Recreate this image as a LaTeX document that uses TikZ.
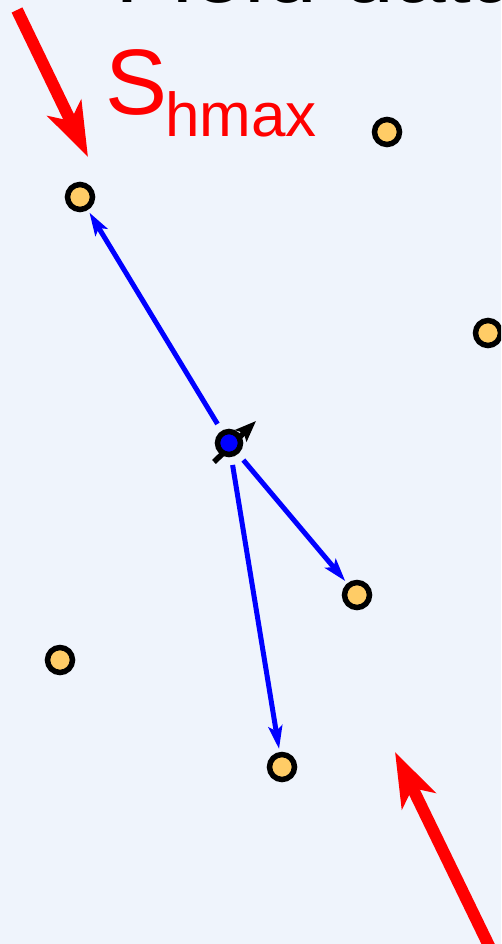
\documentclass[tikz,border=0pt]{standalone}
\usepackage{fontspec}
\setmainfont{Liberation Sans}
\usetikzlibrary{arrows.meta}
\definecolor{bg}{RGB}{239,244,252}
\definecolor{dotfill}{RGB}{255,204,102}
\begin{document}
\begin{tikzpicture}[x=1pt,y=-1pt,
  site/.style={circle,draw=black,line width=5.5pt,fill=dotfill,minimum size=25pt,inner sep=0pt},
  well/.style={circle,draw=black,line width=5.5pt,fill=blue,minimum size=23pt,inner sep=0pt},
  flow/.style={draw=blue,line width=5pt,-{Stealth[length=23pt,width=14pt,inset=5pt]},shorten >=3pt,shorten <=8pt},
  stress/.style={draw=red,line width=12pt,-{Stealth[length=54pt,width=37pt,inset=14pt]}},
  needle/.style={draw=black,line width=5.5pt,-{Stealth[length=21pt,width=16pt,inset=4pt]}},
  bigtext/.style={anchor=base west,inner sep=0pt,font=\fontsize{93}{93}\selectfont}]
\fill[bg] (0,0) rectangle (501,944);
\clip (0,0) rectangle (501,944);
\node[bigtext] (title) at (115,3) {Field data};
\node[bigtext,text=red] (shmax) at (105,115) {S\kern-2pt\raisebox{-22pt}{\fontsize{62}{62}\selectfont hmax}};
% stress arrows
\coordinate (s1tail) at (17,10);
\coordinate (s1tip) at (88,157);
\coordinate (s2tail) at (492,952);
\coordinate (s2tip) at (395,752);
\draw[stress] (s1tail) -- (s1tip);
\draw[stress] (s2tail) -- (s2tip);
% needle
\coordinate (ntail) at (214,462);
\coordinate (ntip) at (256,421);
\draw[needle] (ntail) -- (ntip);
% sites
\node[site] (a) at (80,197) {};
\node[site] (b) at (387,132) {};
\node[site] (c) at (488,333) {};
\node[site] (d) at (357,595) {};
\node[site] (e) at (60,660) {};
\node[site] (f) at (282,767) {};
\node[well] (w) at (229,443) {};
% flow arrows
\draw[flow] (w) -- (a);
\draw[flow] (w) -- (d);
\draw[flow] (w) -- (f);
\end{tikzpicture}
\end{document}
